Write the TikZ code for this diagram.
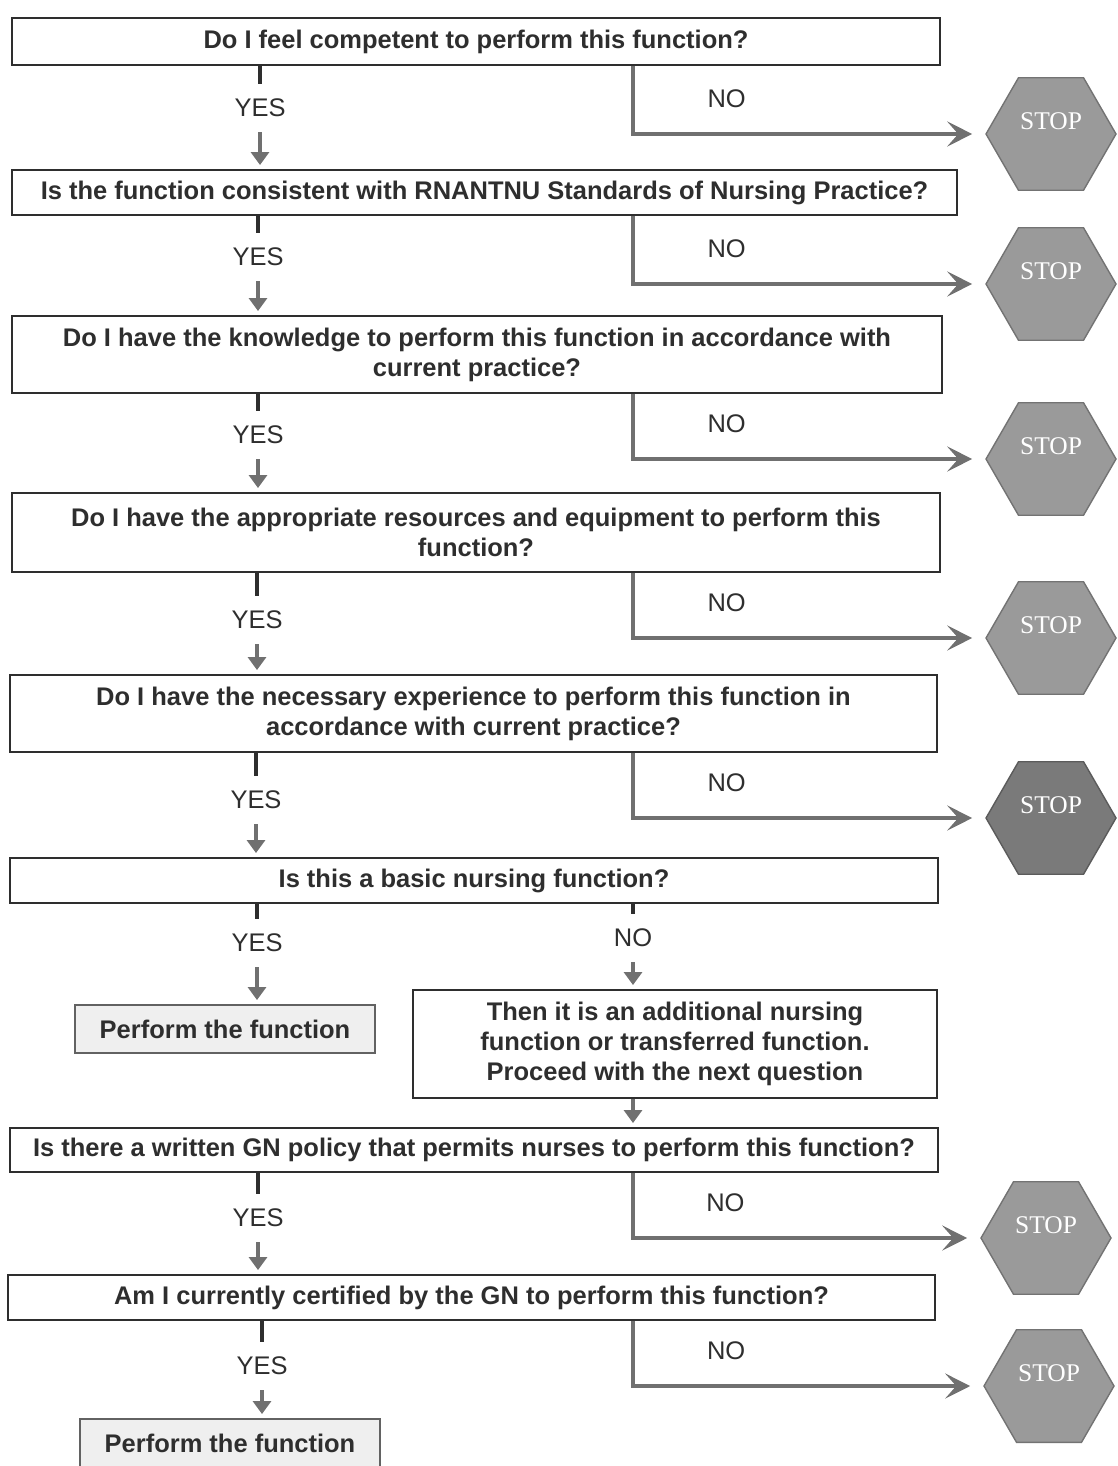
\documentclass[tikz,border=0pt]{standalone}
\usepackage{fontspec}
\setmainfont{Liberation Sans}
\newfontfamily\stopfont{Liberation Serif}
\usepackage{xcolor}
\usetikzlibrary{arrows.meta,positioning,shapes.geometric}
\definecolor{ink}{HTML}{2E2E2E}
\definecolor{wire}{HTML}{707070}
\definecolor{hexfill}{HTML}{9A9A9A}
\definecolor{hexdark}{HTML}{7A7A7A}
\definecolor{cardbg}{HTML}{EFEFEF}
\newcommand\qfont{\fontsize{14.5}{17}\selectfont}
\tikzset{
  qbox/.style={draw=ink,line width=1.1pt,fill=white,text=ink,align=center,
    font=\qfont\bfseries,inner sep=0pt,minimum width=18.56cm,minimum height=0.9cm},
  dobox/.style={qbox,fill=cardbg,draw=ink!75,minimum width=6cm,minimum height=0.96cm},
  ans/.style={text=ink,font=\qfont,inner sep=8.5pt},
  nolab/.style={text=ink,font=\qfont,inner sep=0pt},
  stub/.style={draw=ink,line width=2pt},
  down/.style={-{Triangle[length=2.6mm,width=3.6mm]},draw=wire,line width=1.8pt,shorten >=0.8mm},
  noarr/.style={-{Stealth[length=5mm,width=5mm,inset=2.2mm]},draw=wire,line width=1.8pt,shorten >=2.6mm},
  stopsign/.style={regular polygon,regular polygon sides=6,minimum size=2.6cm,fill=hexfill,
    draw=hexfill!75!black,line width=0.8pt,text=white,font=\stopfont\qfont,text depth=0.5cm,inner sep=0pt},
  stopdark/.style={stopsign,fill=hexdark,draw=hexdark!75!black},
}
\begin{document}
\begin{tikzpicture}[x=0.02cm,y=-0.02cm]
  \useasboundingbox (0,0) rectangle (1118,1466);
  \coordinate (nox) at (633,0);
  % questions
  \node[qbox,minimum height=0.94cm] (q1) at (476,41.5) {Do I feel competent to perform this function?};
  \node[qbox,minimum width=18.9cm] (q2) at (484.5,192.5) {Is the function consistent with RNANTNU Standards of Nursing Practice?};
  \node[qbox,minimum width=18.6cm,minimum height=1.54cm] (q3) at (477,354.5) {Do I have the knowledge to perform this function in accordance with\\current practice?};
  \node[qbox,minimum height=1.58cm] (q4) at (476,532.5) {Do I have the appropriate resources and equipment to perform this\\function?};
  \node[qbox,minimum width=18.54cm,minimum height=1.54cm] (q5) at (473.5,713.5) {Do I have the necessary experience to perform this function in\\accordance with current practice?};
  \node[qbox] (q6) at (474,880.5) {Is this a basic nursing function?};
  \node[dobox] (perf1) at (225,1029) {Perform the function};
  \node[qbox,minimum width=10.48cm,minimum height=2.16cm] (addl) at (675,1044) {Then it is an additional nursing\\function or transferred function.\\Proceed with the next question};
  \node[qbox,minimum height=0.88cm] (q7) at (474,1150) {Is there a written GN policy that permits nurses to perform this function?};
  \node[qbox,minimum width=18.54cm] (q8) at (471.5,1297.5) {Am I currently certified by the GN to perform this function?};
  \node[dobox] (perf2) at (230,1443) {Perform the function};
  % answers
  \node[ans] (y1) at (260,108) {YES};
  \node[ans] (y2) at (258,257) {YES};
  \node[ans] (y3) at (258,435) {YES};
  \node[ans] (y4) at (257,620) {YES};
  \node[ans] (y5) at (256,800) {YES};
  \node[ans] (y6) at (257,943) {YES};
  \node[ans] (n6) at (633,938) {NO};
  \node[ans] (y7) at (258,1218) {YES};
  \node[ans] (y8) at (262,1366) {YES};
  % stop signs
  \node[stopsign] (s1) at (1051,134) {STOP};
  \node[stopsign] (s2) at (1051,284) {STOP};
  \node[stopsign] (s3) at (1051,459) {STOP};
  \node[stopsign] (s4) at (1051,638) {STOP};
  \node[stopdark] (s5) at (1051,818) {STOP};
  \node[stopsign] (s7) at (1046,1238) {STOP};
  \node[stopsign] (s8) at (1049,1386) {STOP};
  % yes path
  \foreach \a/\y/\b in {q1/y1/q2,q2/y2/q3,q3/y3/q4,q4/y4/q5,q5/y5/q6,q6/y6/perf1,q7/y7/q8,q8/y8/perf2,q6/n6/addl} {
    \draw[stub] (\a.south -| \y) -- (\y.north);
    \draw[down] (\y.south) -- (\b.north -| \y);
  }
  \draw[down] (addl.south -| n6) -- (q7.north -| n6);
  % no path
  \foreach \q/\s in {q1/s1,q2/s2,q3/s3,q4/s4,q5/s5,q7/s7,q8/s8}
    \draw[noarr] (\q.south -| nox) |- node[nolab,pos=0.633,above=5mm]{NO} (\s);
\end{tikzpicture}
\end{document}
